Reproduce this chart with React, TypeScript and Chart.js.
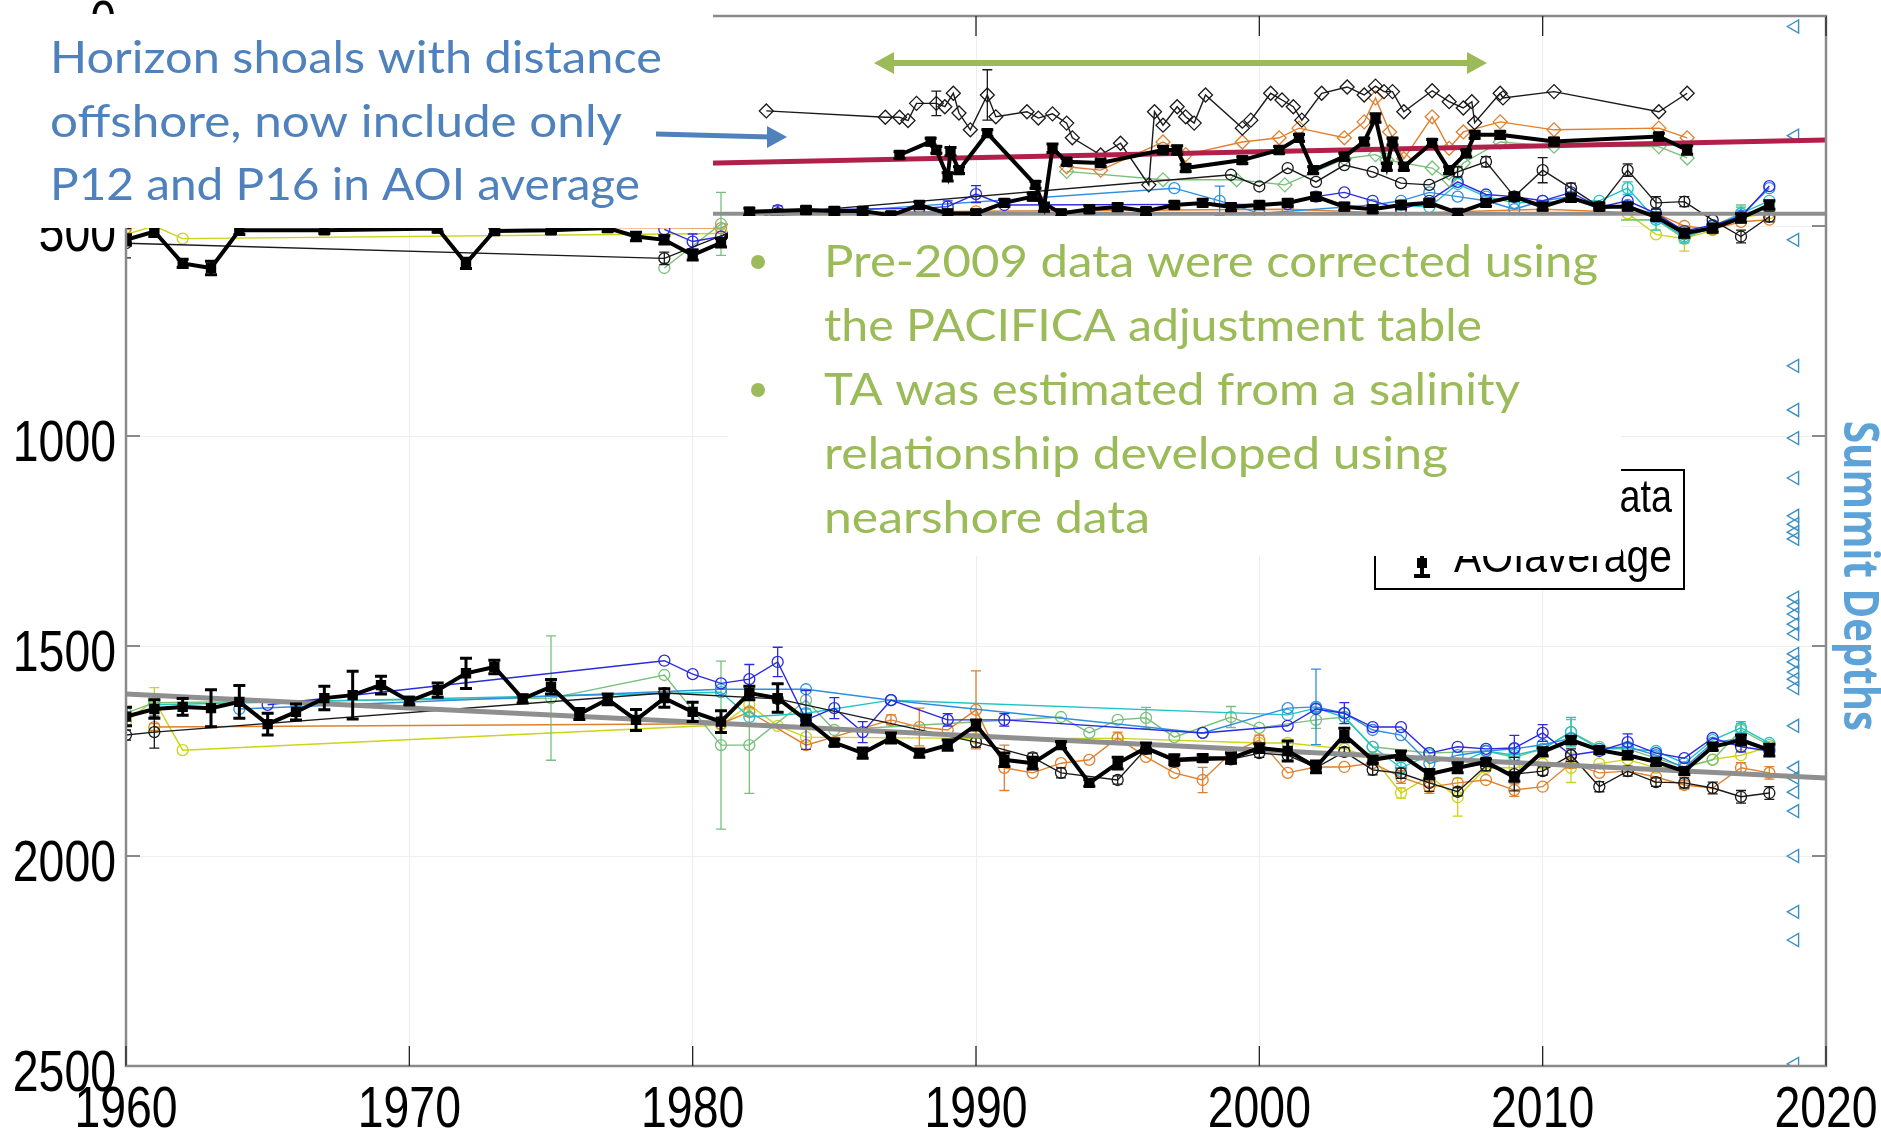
import React, { useEffect, useRef } from "react";
import { Chart, registerables } from "chart.js";
Chart.register(...registerables);

type P = [number, number];

// ---------- axis ticks ----------
const xTickYears = [1960, 1970, 1980, 1990, 2000, 2010, 2020];
const yTickDepths = [0, 500, 1000, 1500, 2000, 2500];

// ---------- lower horizon (depth, m) ----------
const lowerAoi: P[] = [[1960,1668],[1961,1650],[1962,1645],[1963,1648],[1964,1633],[1965,1686],[1966,1657],[1967,1624],[1968,1617],[1969,1593],[1970,1631],[1971,1605],[1972,1565],[1973,1550],[1974,1626],[1975,1597],[1976,1662],[1977,1627],[1978,1676],[1979,1624],[1980,1657],[1981,1680],[1982,1612],[1983,1624],[1984,1676],[1985,1730],[1986,1755],[1987,1719],[1988,1755],[1989,1736],[1990,1688],[1991,1771],[1992,1779],[1993,1736],[1994,1826],[1995,1779],[1996,1743],[1997,1771],[1998,1767],[1999,1767],[2000,1743],[2001,1750],[2002,1788],[2003,1712],[2004,1771],[2005,1760],[2006,1805],[2007,1790],[2008,1776],[2009,1812],[2010,1752],[2011,1724],[2012,1748],[2013,1760],[2014,1776],[2015,1798],[2016,1740],[2017,1724],[2018,1748]];
const lowerAoiErr = [22,22,20,44,39,26,19,28,57,21,9,17,36,16,10,17,13,13,25,22,23,26,16,34,12,8,12,12,10,12,12,16,14,8,8,14,12,12,8,12,10,24,14,16,8,10,11,12,7,10,10,9,8,8,8,8,8,12,14];

const lowerBlack: P[] = [[1960,1712],[1961,1705],[1979,1612],[1983,1626],[1990,1729],[1992,1765],[1993,1802],[1995,1819],[1996,1745],[1997,1775],[1999,1770],[2000,1755],[2001,1760],[2002,1790],[2003,1752],[2004,1795],[2005,1803],[2006,1826],[2007,1847],[2008,1785],[2009,1805],[2010,1798],[2011,1760],[2012,1835],[2013,1798],[2014,1824],[2015,1826],[2016,1838],[2017,1859],[2018,1850]];
const lowerBlackErr = [12,38,10,10,12,10,12,10,10,12,10,10,14,10,10,12,12,20,10,12,40,10,15,12,12,10,12,14,15,15];

const lowerOrange: P[] = [[1961,1693],[1981,1685],[1982,1657],[1984,1736],[1987,1676],[1988,1693],[1989,1700],[1990,1652],[1991,1790],[1992,1802],[1993,1779],[1994,1771],[1995,1719],[1996,1764],[1997,1802],[1998,1819],[1999,1755],[2000,1724],[2001,1802],[2002,1788],[2003,1788],[2004,1779],[2005,1812],[2006,1836],[2007,1826],[2008,1819],[2009,1843],[2010,1835],[2011,1779],[2012,1802],[2013,1798],[2014,1812],[2015,1831],[2016,1838],[2017,1790],[2018,1802]];
const lowerOrangeErr = [8,0,10,0,12,45,0,93,54,0,0,0,14,0,0,30,0,12,0,12,0,0,15,15,0,0,15,0,12,0,0,0,10,0,12,15];

const lowerYellow: P[] = [[1960,1680],[1961,1629],[1962,1748],[1981,1688],[1982,1640],[1983,1690],[1984,1717],[1990,1720],[1995,1720],[2000,1731],[2001,1731],[2003,1745],[2004,1765],[2005,1850],[2006,1810],[2007,1860],[2008,1790],[2009,1790],[2010,1780],[2011,1790],[2012,1780],[2013,1770],[2014,1790],[2015,1790],[2016,1770],[2017,1760],[2018,1740]];
const lowerYellowErr = [10,30,0,0,0,0,0,0,0,0,0,0,0,12,35,45,0,0,0,35,0,0,0,0,0,0,0];

const lowerGreen: P[] = [[1960,1660],[1961,1635],[1975,1624],[1979,1569],[1981,1736],[1982,1736],[1984,1629],[1985,1700],[1993,1669],[1994,1707],[1995,1676],[1996,1671],[1997,1717],[1999,1669],[2000,1695],[2002,1676],[2003,1669],[2004,1740],[2006,1755],[2008,1750],[2009,1765],[2010,1745],[2011,1705],[2012,1740],[2013,1745],[2014,1767],[2015,1788],[2016,1771],[2017,1700],[2018,1736]];
const lowerGreenErr = [0,0,148,0,200,115,0,0,0,0,0,25,0,25,0,20,0,0,0,0,0,0,30,0,0,0,0,0,15,0];

const lowerCyan: P[] = [[1961,1640],[1981,1610],[1982,1669],[1984,1660],[1987,1629],[2001,1664],[2002,1648],[2003,1669],[2004,1740],[2005,1790],[2006,1760],[2007,1780],[2008,1750],[2009,1760],[2010,1745],[2011,1705],[2012,1745],[2013,1745],[2014,1750],[2015,1779],[2016,1724],[2017,1695],[2018,1731]];
const lowerCyanErr = [0,0,0,10,0,0,0,0,0,15,0,0,0,0,0,35,0,0,0,0,0,15,0];

const lowerBlue: P[] = [[1965,1640],[1979,1535],[1980,1567],[1981,1589],[1982,1579],[1983,1538],[1984,1676],[1985,1648],[1986,1705],[1987,1629],[1989,1676],[1991,1676],[1998,1707],[2001,1690],[2002,1650],[2003,1660],[2004,1693],[2005,1693],[2006,1755],[2007,1740],[2008,1745],[2009,1743],[2010,1707],[2011,1760],[2012,1750],[2013,1729],[2014,1755],[2015,1767],[2016,1719],[2017,1740],[2018,1750]];
const lowerBlueErr = [0,0,0,0,35,35,70,25,25,0,15,15,0,0,0,25,0,0,0,0,0,30,20,0,0,20,0,0,0,12,0];

const lowerDodger: P[] = [[1964,1650],[1981,1603],[1984,1603],[1987,1629],[1998,1707],[2001,1648],[2002,1645],[2003,1660],[2004,1700],[2005,1712],[2006,1780],[2007,1760],[2008,1750],[2009,1745],[2010,1735],[2011,1720],[2012,1745],[2013,1740],[2014,1760],[2015,1790],[2016,1730],[2017,1720],[2018,1745]];
const lowerDodgerErr = [0,0,0,0,0,0,90,0,0,0,0,0,0,0,0,0,0,0,0,0,0,0,0];

const lowerTrend: P[] = [[1960,1614],[2020,1814]];

// ---------- upper horizon ----------
const upperAoi: P[] = [[1960,533],[1961,513],[1962,589],[1963,600],[1964,510],[1967,510],[1971,506],[1972,589],[1973,512],[1975,510],[1977,505],[1978,525],[1979,533],[1980,569],[1981,540],[1982,466],[1984,462],[1985,464],[1986,464],[1987,475],[1988,450],[1989,470],[1990,470],[1991,445],[1992,430],[1993,470],[1994,460],[1995,455],[1996,465],[1997,450],[1998,445],[1999,455],[2000,450],[2001,445],[2002,430],[2003,454],[2004,460],[2005,450],[2006,445],[2007,469],[2008,445],[2009,430],[2010,454],[2011,433],[2012,454],[2013,454],[2014,478],[2015,517],[2016,505],[2017,481],[2018,450]];
const upperAoiErr = [12,12,10,16,10,8,8,12,8,8,8,10,10,12,10,8,8,8,8,8,8,8,8,8,8,8,8,8,8,8,8,8,8,8,8,8,8,8,8,8,8,8,8,8,8,8,8,10,10,10,10];

const upperAoi2: P[] = [[1987.3,331],[1988.4,299],[1988.6,319],[1989.0,383],[1989.1,323],[1989.4,367],[1990.4,279],[1992.1,402],[1992.4,455],[1992.7,315],[1993.2,347],[1994.4,350],[1996.6,319],[1997.1,319],[1997.4,362],[1999.4,343],[2000.7,319],[2001.4,290],[2001.9,367],[2003.0,335],[2003.7,299],[2004.1,243],[2004.5,359],[2004.7,299],[2005.1,359],[2006.1,302],[2006.7,367],[2007.3,327],[2007.6,283],[2008.5,283],[2010.4,299],[2014.1,287],[2015.1,319]];
const upperAoi2Err = [8,8,8,10,10,8,8,8,10,10,8,8,8,10,8,8,8,8,8,8,8,10,8,8,8,8,8,8,8,8,8,8,10];

const upperDiamond: P[] = [[1982.6,226],[1986.8,241],[1987.3,241],[1987.6,249],[1987.9,208],[1988.6,208],[1988.9,216],[1989.2,184],[1989.4,231],[1989.8,271],[1990.4,188],[1990.7,240],[1991.8,228],[1992.2,243],[1992.7,233],[1993.2,255],[1993.4,290],[1994.4,331],[1995.1,303],[1996.1,402],[1996.3,228],[1996.6,260],[1997.1,216],[1997.4,240],[1997.7,255],[1998.1,188],[1999.4,267],[1999.7,248],[2000.4,184],[2000.8,200],[2001.2,216],[2001.5,248],[2002.2,184],[2003.1,169],[2003.7,188],[2004.1,167],[2004.4,180],[2004.7,180],[2005.1,228],[2006.1,178],[2006.7,204],[2007.2,219],[2007.5,204],[2007.6,254],[2008.5,184],[2008.6,195],[2010.4,180],[2014.1,228],[2015.1,184]];
const upperDiamondErr = [0,0,0,0,0,29,0,0,0,0,60,0,0,0,0,0,0,0,0,0,0,0,0,0,0,0,0,0,0,0,0,0,0,0,0,0,0,0,0,0,0,0,0,0,0,0,0,0,0];

const upperOrangeDiamond: P[] = [[1993.2,359],[1994.4,367],[1996.6,300],[1997.4,330],[1999.4,300],[2000.7,290],[2001.4,267],[2003.0,290],[2003.7,252],[2004.1,195],[2004.6,276],[2005.1,340],[2006.1,240],[2006.7,315],[2007.2,276],[2008.5,252],[2010.4,271],[2014.1,267],[2015.1,290]];
const upperGreenDiamond: P[] = [[1993.2,370],[1996.6,390],[1999.2,390],[2000.9,402],[2003.0,340],[2004.1,330],[2004.5,343],[2006.1,362],[2006.7,390],[2007.2,350],[2008.5,300],[2010.4,310],[2014.1,311],[2015.1,338]];

const upperBlack: P[] = [[1960,541],[1979,577],[1983,470],[1999,378],[2000,406],[2001,362],[2002,395],[2003,355],[2004,371],[2005,398],[2006,402],[2007,371],[2008,347],[2009,430],[2010,367],[2011,410],[2012,454],[2013,367],[2014,445],[2015,442],[2016,486],[2017,525],[2018,478]];
const upperBlackErr = [35,15,10,0,0,0,0,0,0,0,0,12,12,0,30,12,0,15,15,12,0,15,12];

const upperOrange: P[] = [[1960,505],[1961,500],[1981,505],[1982,470],[1990,465],[2001,460],[2005,470],[2010,460],[2014,470],[2015,500],[2016,508],[2017,490],[2018,485]];
const upperYellow: P[] = [[1960,520],[1961,500],[1962,530],[1981,518],[1983,470],[2000,470],[2013,470],[2014,520],[2015,530],[2016,510],[2017,480],[2018,470]];
const upperYellowErr = [0,0,0,0,0,0,0,0,30,0,0,0];
const upperBlue: P[] = [[1979,508],[1980,537],[1981,525],[1983,462],[1988,458],[1989,454],[1990,424],[1991,450],[2001,448],[2002,430],[2003,420],[2004,440],[2005,460],[2006,440],[2007,395],[2008,425],[2009,430],[2010,440],[2011,420],[2012,455],[2013,440],[2014,470],[2015,512],[2016,498],[2017,478],[2018,405]];
const upperBlueErr = [0,18,0,10,0,14,20,0,0,0,0,0,0,0,0,0,0,0,0,0,0,0,0,0,0,0];
const upperLightBlue: P[] = [[1982,480],[1997,410],[1998.6,440],[2000,470],[2004,450],[2005,440],[2006,420],[2007,430],[2008,440],[2009,460],[2010,440],[2011,430],[2012,460],[2013,450],[2014,480],[2015,520],[2016,500],[2017,475],[2018,410]];
const upperLightBlueErr = [0,0,35,0,0,0,0,0,0,0,0,0,0,0,0,0,0,0,0];
const upperCyan: P[] = [[2005,450],[2006,455],[2007,400],[2008,430],[2009,445],[2012,440],[2013,410],[2014,485],[2015,525],[2016,505],[2017,470],[2018,440]];
const upperCyanErr = [0,0,0,0,0,0,15,25,15,0,15,0];
const upperGreen: P[] = [[1979,600],[1981,495],[2014,485],[2015,530],[2016,500],[2017,470],[2018,460]];
const upperGreenErr = [0,75,0,0,0,20,0];

const upperRedTrend: P[] = [[1960,379],[2020,295]];
const upperGrayLine: P[] = [[1960,471],[2020,471]];

// ---------- summit depths (right-hand markers) ----------
const summitYear = 2018.9;
const summitDepths = [25,285,533,833,938,1005,1100,1190,1210,1229,1245,1385,1405,1424,1448,1471,1519,1538,1562,1579,1600,1690,1790,1814,1848,1893,2000,2133,2200,2495];

// ---------- annotation texts ----------
const blueNote = ["Horizon shoals with distance", "offshore, now include only", "P12 and P16 in AOI average"];
const greenNote = ["Pre-2009 data were corrected using", "the PACIFICA adjustment table", "TA was estimated from a salinity", "relationship developed using", "nearshore data"];
const greenBulletLines = [0, 2];
const legendLabels = ["Data", "AOIaverage"];
const sideTitle = "Summit Depths";

const C = {
  black: "#000000",
  thin: "#1a1a1a",
  orange: "#e0802c",
  yellow: "#cdd316",
  green: "#78c07c",
  cyan: "#20c4c4",
  blue: "#2a2ae0",
  dodger: "#2e8ee0",
  gray: "#8f8f8f",
  red: "#b0204a",
  tri: "#3a8fc4",
  noteBlue: "#4f81bd",
  noteGreen: "#9bbb59",
  title: "#5ea3d8",
};

const AXIS_FONT = '"Liberation Sans", Arial, sans-serif';
const NOTE_FONT = 'Lato, "Open Sans", sans-serif';
const TITLE_FONT = '"Open Sans", Lato, sans-serif';

const xy = (pts: P[]) => pts.map(([x, y]) => ({ x, y }));

function thickSet(label: string, pts: P[], errs: number[]) {
  return {
    label, data: xy(pts), errs, errWidth: 3, errCap: 6,
    borderColor: C.black, backgroundColor: C.black, borderWidth: 4,
    pointStyle: "rect", pointRadius: 4.5, pointBackgroundColor: C.black, pointBorderColor: C.black,
  };
}
function thinSet(label: string, pts: P[], color: string, errs: number[] | null, style = "circle", r = 5.5) {
  return {
    label, data: xy(pts), errs, errWidth: 1.3, errCap: 5,
    borderColor: color, backgroundColor: "rgba(0,0,0,0)", borderWidth: 1.4,
    pointStyle: style, pointRadius: r, pointBorderWidth: 1.3,
    pointBorderColor: color, pointBackgroundColor: "rgba(0,0,0,0)",
  };
}
function trendSet(label: string, pts: P[], color: string, w: number) {
  return { label, data: xy(pts), borderColor: color, borderWidth: w, pointRadius: 0, backgroundColor: color };
}

const errorBarPlugin = {
  id: "errbars",
  afterDatasetDraw(chart: any, args: any) {
    const ds = chart.data.datasets[args.index];
    if (!ds.errs) return;
    const { ctx, chartArea: a, scales } = chart;
    ctx.save();
    ctx.beginPath();
    ctx.rect(a.left, a.top, a.right - a.left, a.bottom - a.top);
    ctx.clip();
    ctx.strokeStyle = ds.borderColor;
    ctx.lineWidth = ds.errWidth;
    ds.data.forEach((p: any, i: number) => {
      const e = ds.errs[i];
      if (!e) return;
      const px = scales.x.getPixelForValue(p.x);
      const y1 = scales.y.getPixelForValue(p.y - e);
      const y2 = scales.y.getPixelForValue(p.y + e);
      ctx.beginPath();
      ctx.moveTo(px, y1); ctx.lineTo(px, y2);
      ctx.moveTo(px - ds.errCap, y1); ctx.lineTo(px + ds.errCap, y1);
      ctx.moveTo(px - ds.errCap, y2); ctx.lineTo(px + ds.errCap, y2);
      ctx.stroke();
    });
    ctx.restore();
  },
};

function fitText(ctx: CanvasRenderingContext2D, text: string, x: number, y: number, font: string, width: number, color: string) {
  ctx.save();
  ctx.font = font;
  const w = ctx.measureText(text).width;
  ctx.translate(x, y);
  ctx.scale(width / w, 1);
  ctx.fillStyle = color;
  ctx.textAlign = "left";
  ctx.textBaseline = "alphabetic";
  ctx.fillText(text, 0, 0);
  ctx.restore();
}

// narrow (condensed) label, anchored by align at x
function narrowText(ctx: CanvasRenderingContext2D, text: string, x: number, y: number, size: number, align: "left" | "right" | "center", squeeze = 0.8) {
  ctx.save();
  ctx.font = `${size}px ${AXIS_FONT}`;
  ctx.translate(x, y);
  ctx.scale(squeeze, 1);
  ctx.fillStyle = "#000";
  ctx.textAlign = align;
  ctx.textBaseline = "alphabetic";
  ctx.fillText(text, 0, 0);
  ctx.restore();
}

function arrowHead(ctx: CanvasRenderingContext2D, tipX: number, tipY: number, dir: number, len: number, half: number) {
  ctx.beginPath();
  ctx.moveTo(tipX, tipY);
  ctx.lineTo(tipX - dir * len, tipY - half);
  ctx.lineTo(tipX - dir * len, tipY + half);
  ctx.closePath();
  ctx.fill();
}

const overlayPlugin = {
  id: "overlay",
  afterDraw(chart: any) {
    const { ctx, chartArea: a, scales } = chart;
    const xs = scales.x, ys = scales.y;
    ctx.save();
    // axes box
    ctx.strokeStyle = "#8a8a8a";
    ctx.lineWidth = 2.5;
    ctx.strokeRect(a.left, a.top, a.right - a.left, a.bottom - a.top);
    // x ticks (top & bottom, inward) + labels
    ctx.strokeStyle = "#222";
    ctx.lineWidth = 1.3;
    xTickYears.forEach((yr) => {
      const px = xs.getPixelForValue(yr);
      ctx.beginPath();
      ctx.moveTo(px, a.bottom); ctx.lineTo(px, a.bottom - 20);
      ctx.moveTo(px, a.top); ctx.lineTo(px, a.top + 20);
      ctx.stroke();
      narrowText(ctx, String(yr), px, 1127, 58, "center");
    });
    // y ticks (left & right, inward) + labels
    ctx.strokeStyle = "#8a8a8a";
    ctx.lineWidth = 2;
    yTickDepths.forEach((d) => {
      const py = ys.getPixelForValue(d);
      ctx.beginPath();
      ctx.moveTo(a.left, py); ctx.lineTo(a.left + 14, py);
      ctx.moveTo(a.right, py); ctx.lineTo(a.right - 14, py);
      ctx.stroke();
      narrowText(ctx, String(d), 116, py + 25, 58, "right");
    });

    // legend
    ctx.fillStyle = "#fff";
    ctx.fillRect(1375, 470, 309, 119);
    ctx.strokeStyle = "#000";
    ctx.lineWidth = 2;
    ctx.strokeRect(1375, 470, 309, 119);
    narrowText(ctx, legendLabels[0], 1672, 512, 46, "right", 0.82);
    fitText(ctx, legendLabels[1], 1454, 572, `46px ${AXIS_FONT}`, 218, "#000");
    ctx.strokeStyle = "#000";
    ctx.lineWidth = 4;
    ctx.beginPath();
    ctx.moveTo(1422, 540); ctx.lineTo(1422, 576);
    ctx.moveTo(1414, 576); ctx.lineTo(1430, 576);
    ctx.stroke();
    ctx.fillStyle = "#000";
    ctx.fillRect(1417, 558, 10, 10);

    // white boxes
    ctx.fillStyle = "#fff";
    ctx.fillRect(0, 14, 713, 214);
    ctx.fillRect(728, 216, 893, 340);

    // blue note
    const blueW = [612, 572, 590];
    const blueBase = [73, 137, 200];
    blueNote.forEach((t, i) => fitText(ctx, t, 50, blueBase[i], `45px ${NOTE_FONT}`, blueW[i], C.noteBlue));
    // blue arrow
    ctx.strokeStyle = C.noteBlue;
    ctx.fillStyle = C.noteBlue;
    ctx.lineWidth = 5;
    ctx.beginPath(); ctx.moveTo(656, 134); ctx.lineTo(770, 137); ctx.stroke();
    arrowHead(ctx, 787, 137, 1, 20, 11);

    // green double arrow
    ctx.strokeStyle = C.noteGreen;
    ctx.fillStyle = C.noteGreen;
    ctx.lineWidth = 6;
    ctx.beginPath(); ctx.moveTo(890, 63); ctx.lineTo(1470, 63); ctx.stroke();
    arrowHead(ctx, 874, 63, -1, 20, 11);
    arrowHead(ctx, 1487, 63, 1, 20, 11);

    // green note
    const greenW = [774, 658, 696, 624, 326];
    const greenBase = [277, 341, 405, 469, 533];
    greenNote.forEach((t, i) => fitText(ctx, t, 824, greenBase[i], `44px ${NOTE_FONT}`, greenW[i], C.noteGreen));
    ctx.fillStyle = C.noteGreen;
    greenBulletLines.forEach((li) => {
      ctx.beginPath();
      ctx.arc(758, greenBase[li] - 15, 7, 0, Math.PI * 2);
      ctx.fill();
    });

    // right-side title
    ctx.save();
    ctx.translate(1858, 576);
    ctx.rotate(Math.PI / 2);
    ctx.font = `bold 48px ${TITLE_FONT}`;
    const tw = ctx.measureText(sideTitle).width;
    ctx.scale(310 / tw, 1);
    ctx.fillStyle = C.title;
    ctx.textAlign = "center";
    ctx.textBaseline = "middle";
    ctx.fillText(sideTitle, 0, 0);
    ctx.restore();

    ctx.restore();
  },
};

export default function App() {
  const ref = useRef<HTMLCanvasElement | null>(null);
  useEffect(() => {
    if (!ref.current) return;
    const datasets: any[] = [
      thickSet("AOI lower", lowerAoi, lowerAoiErr),
      thickSet("AOI upper", upperAoi, upperAoiErr),
      thickSet("AOI upper 2", upperAoi2, upperAoi2Err),
      trendSet("lower trend", lowerTrend, C.gray, 5),
      trendSet("upper trend", upperRedTrend, C.red, 5),
      trendSet("upper frame line", upperGrayLine, C.gray, 4),
      thinSet("lower black", lowerBlack, C.thin, lowerBlackErr),
      thinSet("upper black", upperBlack, C.thin, upperBlackErr),
      thinSet("upper diamonds", upperDiamond, C.thin, upperDiamondErr, "rectRot", 7),
      thinSet("upper orange diamonds", upperOrangeDiamond, C.orange, null, "rectRot", 7),
      thinSet("upper green diamonds", upperGreenDiamond, C.green, null, "rectRot", 7),
      thinSet("lower blue", lowerBlue, C.blue, lowerBlueErr),
      thinSet("lower dodger", lowerDodger, C.dodger, lowerDodgerErr),
      thinSet("lower cyan", lowerCyan, C.cyan, lowerCyanErr),
      thinSet("lower green", lowerGreen, C.green, lowerGreenErr),
      thinSet("lower orange", lowerOrange, C.orange, lowerOrangeErr),
      thinSet("lower yellow", lowerYellow, C.yellow, lowerYellowErr),
      thinSet("upper blue", upperBlue, C.blue, upperBlueErr),
      thinSet("upper light blue", upperLightBlue, C.dodger, upperLightBlueErr),
      thinSet("upper cyan", upperCyan, C.cyan, upperCyanErr),
      thinSet("upper green", upperGreen, C.green, upperGreenErr),
      thinSet("upper orange", upperOrange, C.orange, null),
      thinSet("upper yellow", upperYellow, C.yellow, upperYellowErr),
      {
        label: "Summit depths",
        data: summitDepths.map((d) => ({ x: summitYear, y: d })),
        showLine: false,
        pointStyle: "triangle",
        pointRotation: 270,
        pointRadius: 7.5,
        pointBorderWidth: 1.4,
        pointBorderColor: C.tri,
        pointBackgroundColor: "rgba(0,0,0,0)",
        borderColor: C.tri,
        backgroundColor: "rgba(0,0,0,0)",
      },
    ];
    const chart = new Chart(ref.current, {
      type: "line",
      data: { datasets },
      options: {
        responsive: false,
        animation: false,
        events: [],
        layout: { padding: { top: 16, right: 55, bottom: 0, left: 0 } },
        plugins: { legend: { display: false }, tooltip: { enabled: false } },
        scales: {
          x: {
            type: "linear",
            min: 1960,
            max: 2020,
            afterFit: (s: any) => { s.height = 63; s.paddingLeft = 0; s.paddingRight = 0; },
            afterBuildTicks: (s: any) => { s.ticks = xTickYears.map((v) => ({ value: v })); },
            ticks: { display: false },
            grid: { color: "#eeeeee", lineWidth: 1, drawTicks: false },
            border: { display: false },
          },
          y: {
            type: "linear",
            reverse: true,
            min: 0,
            max: 2500,
            afterFit: (s: any) => { s.width = 126; s.paddingTop = 0; s.paddingBottom = 0; },
            afterBuildTicks: (s: any) => { s.ticks = yTickDepths.map((v) => ({ value: v })); },
            ticks: { display: false },
            grid: { color: "#eeeeee", lineWidth: 1, drawTicks: false },
            border: { display: false },
          },
        },
      },
      plugins: [errorBarPlugin, overlayPlugin],
    } as any);
    return () => chart.destroy();
  }, []);
  return (
    <div style={{ position: "fixed", left: 0, top: 0, width: 1881, height: 1129, background: "#fff" }}>
      <canvas ref={ref} width={1881} height={1129} style={{ display: "block" }} />
    </div>
  );
}
